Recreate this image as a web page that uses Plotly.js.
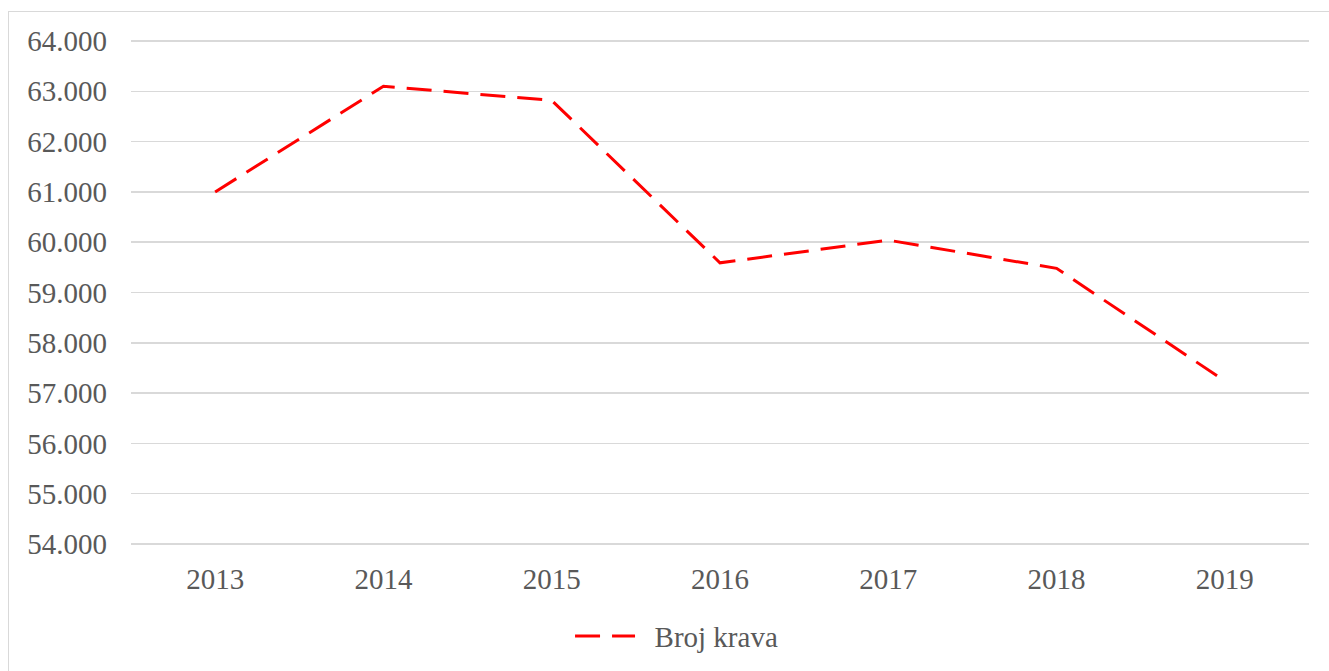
<!DOCTYPE html>
<html>
<head>
<meta charset="utf-8">
<script src="https://cdn.plot.ly/plotly-3.0.1.min.js"></script>
<style>
  html, body { margin: 0; padding: 0; background: #fff; }
  #wrap { position: relative; width: 1329px; height: 671px; overflow: hidden; }
  #chart { position: absolute; left: 0; top: 0; width: 1329px; height: 671px; }
  #frame { position: absolute; left: 8px; top: 11px; width: 1400px; height: 800px;
           border-left: 1.5px solid #D9D9D9; border-top: 1.5px solid #D9D9D9; pointer-events: none; }
</style>
</head>
<body>
<div id="wrap">
  <div id="chart"></div>
  <div id="frame"></div>
</div>
<script>
const years = ['2013', '2014', '2015', '2016', '2017', '2018', '2019'];
const brojKrava = [61000, 63100, 62820, 59590, 60040, 59480, 57240];
const seriesName = 'Broj krava';
const yTicks = [54000, 55000, 56000, 57000, 58000, 59000, 60000, 61000, 62000, 63000, 64000];
const yTickLabels = ['54.000', '55.000', '56.000', '57.000', '58.000', '59.000', '60.000', '61.000', '62.000', '63.000', '64.000'];

const font = { family: 'Liberation Serif, Times New Roman, serif', size: 29, color: '#595959' };

const trace = {
  x: years,
  y: brojKrava,
  name: '\u2002' + seriesName,
  type: 'scatter',
  mode: 'lines',
  line: { color: '#FF0000', width: 3, dash: '25px,12px' },
  showlegend: true,
  hoverinfo: 'skip'
};

const layout = {
  width: 1329,
  height: 671,
  margin: { l: 131, r: 20, t: 37.5, b: 123.5, pad: 0, autoexpand: false },
  paper_bgcolor: 'rgba(0,0,0,0)',
  plot_bgcolor: 'rgba(0,0,0,0)',
  font: font,
  showlegend: true,
  xaxis: {
    type: 'category',
    range: [-0.5, 6.5],
    showgrid: false,
    zeroline: false,
    showline: false,
    ticks: '',
    tickfont: font,
    ticklabelstandoff: 12,
    fixedrange: true
  },
  yaxis: {
    range: [53940, 64060],
    tickvals: yTicks,
    ticktext: yTickLabels,
    showgrid: true,
    gridcolor: '#D9D9D9',
    gridwidth: 1.5,
    zeroline: false,
    showline: false,
    ticks: '',
    tickfont: font,
    ticklabelstandoff: 23,
    fixedrange: true
  },
  legend: {
    orientation: 'h',
    x: 0.3727,
    xanchor: 'left',
    yref: 'container',
    y: 0.052,
    yanchor: 'middle',
    font: font,
    bgcolor: 'rgba(0,0,0,0)',
    itemwidth: 60
  },
  hovermode: false
};

Plotly.newPlot('chart', [trace], layout, { displayModeBar: false, staticPlot: true });
</script>
</body>
</html>
